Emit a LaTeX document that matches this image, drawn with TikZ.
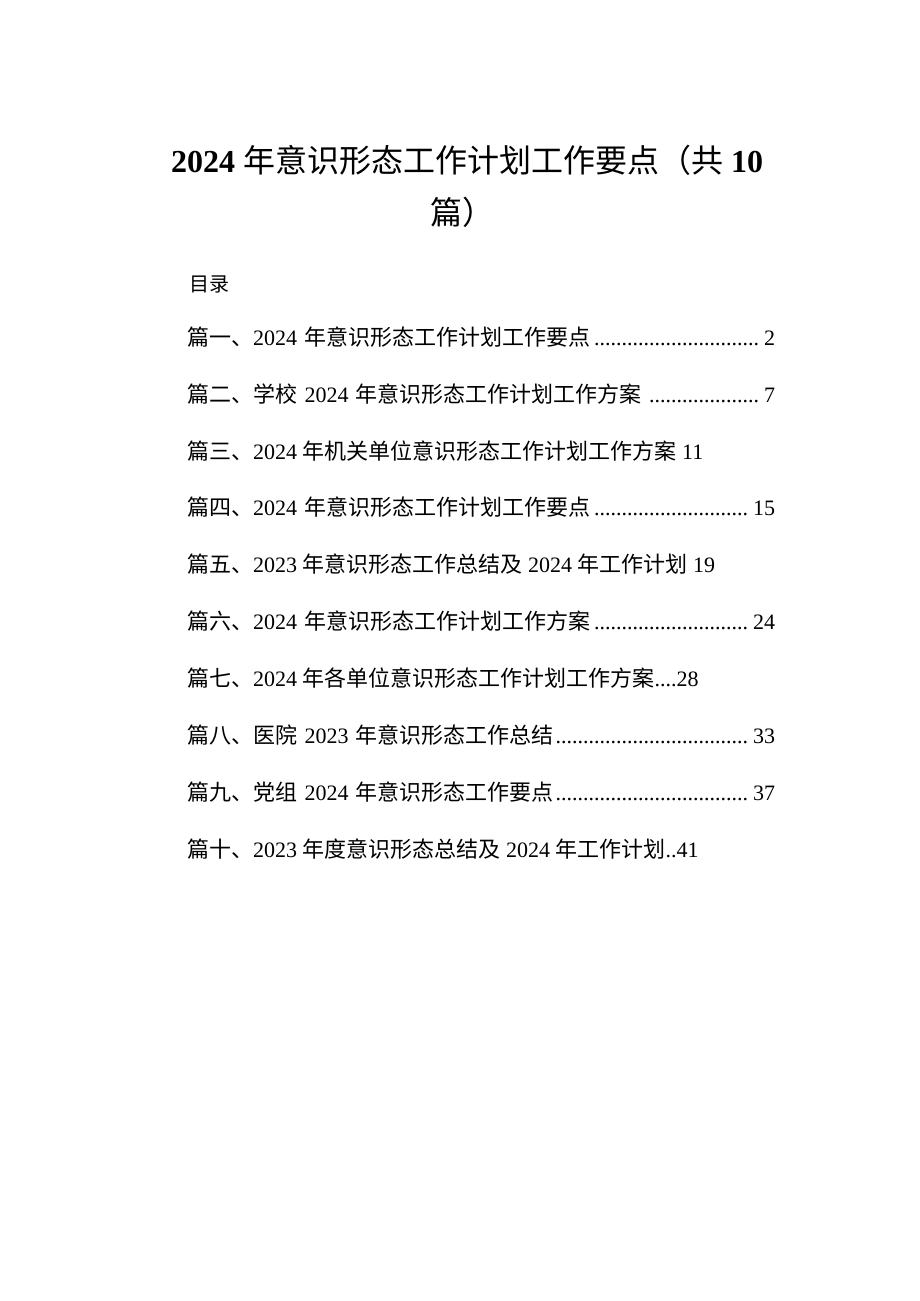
\documentclass[tikz,border=0pt]{standalone}
\usepackage{fontspec}
\setmainfont{Liberation Serif}
\newfontfamily\cjk{Noto Sans CJK SC}
\tikzset{
  titletext/.style={anchor=base, font=\fontsize{32}{40}\selectfont\bfseries},
  tocline/.style={anchor=base west, inner sep=0pt, font=\fontsize{22}{27}\selectfont},
  tocfill/.style={tocline, text width=588pt, align=left},
}
\newcommand{\zh}[1]{{\cjk #1}}
\newcommand{\dotlead}{\leaders\hbox{.}\hfill}
\begin{document}
\begin{tikzpicture}[x=1pt,y=-1pt]
  \useasboundingbox (0,0) rectangle (920,1301);
  % Title
  \node[titletext] (title1) at (467,172) {2024 {\cjk\mdseries 年意识形态工作计划工作要点（共} 10};
  \node[titletext] (title2) at (462,224) {{\cjk\mdseries 篇）}};
  \node[tocline, font=\fontsize{20}{24}\selectfont] (mulu) at (189,291) {\zh{目录}};
  % Contents
  \node[tocfill] (p1) at (187,345) {\zh{篇一、}2024 \zh{年意识形态工作计划工作要点}\dotlead 2};
  \node[tocfill] (p2) at (187,402) {\zh{篇二、学校} 2024 \zh{年意识形态工作计划工作方案}\ \dotlead 7};
  \node[tocline] (p3) at (187,459) {\zh{篇三、}2024 \zh{年机关单位意识形态工作计划工作方案} 11};
  \node[tocfill] (p4) at (187,515) {\zh{篇四、}2024 \zh{年意识形态工作计划工作要点}\dotlead 15};
  \node[tocline] (p5) at (187,572) {\zh{篇五、}2023 \zh{年意识形态工作总结及} 2024 \zh{年工作计划} 19};
  \node[tocfill] (p6) at (187,629) {\zh{篇六、}2024 \zh{年意识形态工作计划工作方案}\dotlead 24};
  \node[tocline] (p7) at (187,686) {\zh{篇七、}2024 \zh{年各单位意识形态工作计划工作方案}....28};
  \node[tocfill] (p8) at (187,743) {\zh{篇八、医院} 2023 \zh{年意识形态工作总结}\dotlead 33};
  \node[tocfill] (p9) at (187,800) {\zh{篇九、党组} 2024 \zh{年意识形态工作要点}\dotlead 37};
  \node[tocline] (p10) at (187,857) {\zh{篇十、}2023 \zh{年度意识形态总结及} 2024 \zh{年工作计划}..41};
\end{tikzpicture}
\end{document}
